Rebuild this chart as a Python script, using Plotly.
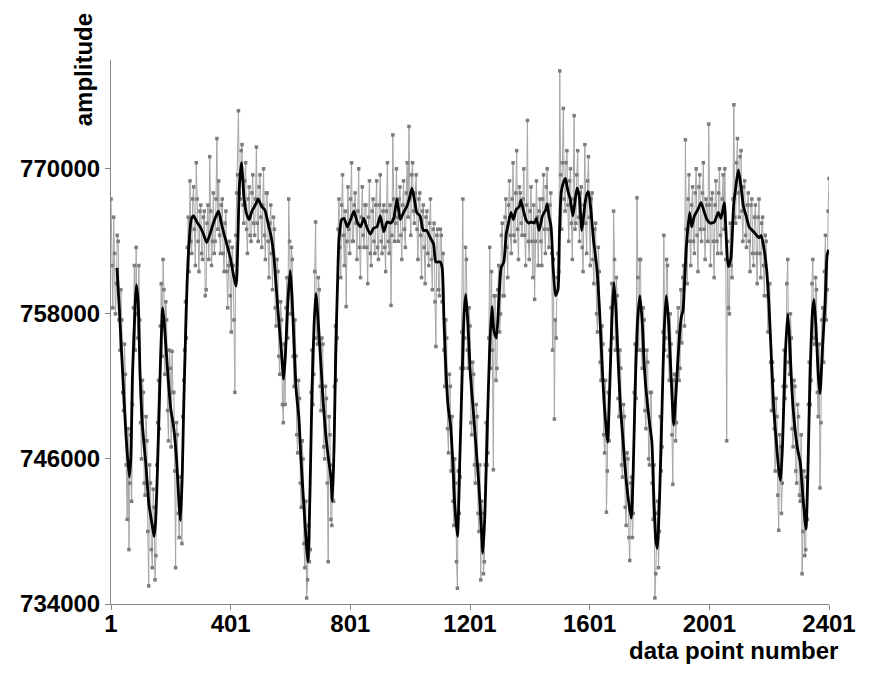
import plotly.graph_objects as go

# ---------------- data (amplitudes in thousands) ----------------
raw_a_idx = list(range(1, 2402, 6))
raw_a_k = [
    767.5, 758.5, 763.0, 760.5, 764.0, 755.0, 757.5, 750.0, 753.0, 741.0,
    738.5, 748.0, 750.5, 762.0, 763.5, 756.0, 757.5, 746.0, 751.5, 743.0,
    747.5, 735.5, 744.0, 737.0, 742.0, 738.0, 749.0, 748.5, 760.5, 762.5,
    753.0, 757.5, 747.5, 753.5, 754.9, 751.5, 737.0, 748.0, 739.5, 744.5,
    749.5, 755.0, 756.0, 766.0, 769.0, 763.0, 768.5, 762.0, 767.5, 761.5,
    767.0, 762.5, 766.5, 760.0, 767.0, 771.0, 762.0, 768.0, 764.0, 772.5,
    769.0, 763.0, 767.5, 761.5, 766.5, 758.5, 764.0, 756.5, 762.0, 751.5,
    768.0, 774.8, 767.5, 772.0, 765.5, 770.5, 763.0, 768.5, 764.0, 769.5,
    764.5, 771.8, 764.0, 769.5, 763.5, 770.0, 762.5, 768.0, 761.0, 767.0,
    760.0, 765.0, 757.0, 761.5, 753.0, 757.5, 749.0, 750.5, 761.0, 767.5,
    758.0, 762.5, 752.0, 754.5, 746.5, 751.0, 742.0, 746.0, 737.0, 734.5,
    740.5, 738.5, 755.0, 753.0, 765.6, 755.5, 760.0, 750.0, 755.5, 746.0,
    751.0, 737.5, 748.0, 740.5, 742.5, 757.0, 756.0, 767.5, 761.0, 769.5,
    762.0, 758.6, 768.5, 763.0, 770.5, 764.0, 768.0, 762.5, 770.0, 761.0,
    768.5, 763.5, 767.0, 760.5, 769.0, 762.0, 767.5, 763.0, 769.0, 762.5,
    769.5, 763.0, 767.0, 761.5, 770.5, 763.0, 758.7, 772.8, 764.0, 770.0,
    764.0, 768.5, 762.5, 769.0, 763.5, 770.5, 773.5, 764.5, 770.5, 765.5,
    769.5, 762.5, 768.0, 761.0, 767.0, 760.5, 766.5, 762.0, 767.5, 760.0,
    765.5, 755.3, 765.0, 759.5, 764.5, 763.0, 752.0, 756.0, 746.5, 752.0,
    749.5, 740.5, 744.0, 735.3, 741.5, 753.5, 767.5, 756.0, 762.5, 753.5,
    757.0, 748.0, 753.0, 744.0, 749.5, 740.0, 736.0, 741.5, 737.5, 749.0,
    746.5, 763.5, 761.5, 745.1, 759.5, 753.5, 762.0, 758.0, 765.5, 759.5,
    767.5, 761.0, 769.0, 763.0, 770.5, 764.0, 771.5, 762.5, 768.0, 764.5,
    770.0, 762.0, 774.0, 762.5, 768.5, 761.0, 759.2, 769.0, 762.0, 767.5,
    762.0, 769.5, 763.0, 770.0, 763.5, 768.0, 755.0, 749.3, 756.0, 763.0,
    778.1, 765.0, 775.0, 766.5, 771.5, 764.0, 770.0, 762.5, 774.4, 765.5,
    771.5, 764.0, 768.5, 761.5, 772.0, 763.0, 771.0, 762.0, 768.0, 760.5,
    765.5, 756.5, 761.5, 752.5, 755.5, 746.5, 741.6, 751.5, 755.0, 760.5,
    766.5, 755.0, 759.5, 749.5, 753.5, 744.5, 749.5, 740.5, 746.0, 737.6,
    744.5, 741.5, 755.5, 767.6, 755.0, 762.5, 753.5, 757.5, 748.5, 754.0,
    745.5, 751.5, 741.0, 734.5, 741.5, 737.0, 749.5, 747.0, 764.5, 756.0,
    762.0, 752.5, 755.5, 743.9, 753.0, 749.0, 758.5, 753.5, 755.6, 762.0,
    772.4, 760.5, 769.5, 762.0, 768.5, 763.0, 770.0, 761.5, 769.5, 764.0,
    770.5, 762.5, 767.0, 773.7, 762.0, 768.0, 761.0, 769.0, 763.0, 770.0,
    763.0, 769.5, 770.0, 747.5, 758.5, 765.5, 761.0, 775.3, 765.5, 772.5,
    766.0, 771.5, 764.0, 769.0, 763.5, 768.0, 761.5, 767.5, 762.0, 767.0,
    760.5, 767.5, 761.0, 766.0, 759.5, 764.0, 756.5, 760.5, 750.0, 752.5,
    745.0, 749.5, 740.1, 747.0, 744.0, 755.0, 752.0, 762.5, 753.0, 756.0,
    747.0, 752.0, 744.0, 749.5, 742.5, 736.5, 745.0, 738.5, 741.0, 754.0,
    752.5, 762.5, 755.5, 760.0, 749.5, 743.6, 757.5, 754.0, 764.5, 760.0,
    769.2,
]

raw_b_idx = list(range(4, 2402, 6))
raw_b_k = [
    762.0, 766.0, 758.0, 764.5, 757.5, 760.0, 751.5, 755.5, 745.5, 748.5,
    744.0, 742.5, 758.5, 755.0, 758.0, 762.0, 749.0, 752.5, 744.0, 749.5,
    740.0, 745.5, 738.5, 743.5, 736.0, 745.5, 752.5, 757.0, 754.5, 760.0,
    759.0, 750.0, 755.0, 747.0, 751.5, 745.0, 749.0, 741.5, 744.5, 739.0,
    752.5, 759.0, 763.5, 761.5, 764.0, 767.5, 765.0, 770.5, 764.0, 766.5,
    763.0, 766.0, 759.5, 765.5, 762.5, 766.5, 764.0, 763.0, 767.5, 765.0,
    764.5, 767.0, 763.0, 765.5, 761.5, 762.0, 759.5, 763.5, 757.5, 764.5,
    769.5, 768.0, 771.5, 767.0, 769.0, 765.0, 767.5, 764.5, 768.0, 765.5,
    767.5, 765.5, 768.5, 766.0, 767.0, 764.5, 768.0, 764.0, 765.5, 763.0,
    766.0, 758.5, 762.5, 754.5, 759.0, 750.5, 755.5, 758.5, 756.0, 764.0,
    763.5, 754.5, 757.5, 748.0, 752.5, 744.0, 747.5, 739.0, 742.5, 736.0,
    737.5, 751.5, 750.5, 761.5, 756.0, 761.0, 752.0, 756.0, 747.0, 752.0,
    744.0, 749.5, 741.0, 745.5, 752.0, 752.5, 765.0, 763.5, 767.0, 764.5,
    766.5, 764.0, 765.0, 767.5, 764.0, 767.0, 765.5, 766.5, 763.5, 766.0,
    764.5, 767.0, 763.5, 766.0, 763.0, 766.5, 764.0, 767.0, 763.5, 767.0,
    764.0, 766.5, 763.5, 766.5, 764.0, 767.0, 764.5, 767.5, 765.5, 766.0,
    767.5, 764.5, 767.0, 765.0, 768.0, 766.0, 767.5, 769.5, 766.5, 768.0,
    765.0, 767.5, 764.5, 766.5, 763.5, 766.0, 763.0, 765.5, 762.5, 765.0,
    759.0, 764.5, 760.0, 765.0, 759.0, 755.0, 757.5, 748.5, 753.0, 745.0,
    742.5, 746.0, 737.5, 745.0, 744.5, 756.5, 753.5, 763.5, 755.0, 758.5,
    749.0, 754.0, 745.5, 750.5, 741.5, 745.5, 742.5, 736.5, 745.5, 745.5,
    756.0, 753.5, 755.0, 759.5, 752.5, 760.0, 756.5, 764.5, 759.5, 766.0,
    763.5, 767.0, 764.5, 767.5, 764.5, 768.0, 765.0, 768.5, 765.5, 767.5,
    764.5, 767.0, 764.0, 766.5, 764.0, 767.0, 764.0, 766.0, 766.5, 764.0,
    767.5, 765.0, 768.5, 765.0, 767.0, 763.0, 762.5, 757.5, 761.0, 761.5,
    769.5, 770.5, 767.5, 770.5, 767.0, 769.0, 765.5, 767.5, 765.0, 769.5,
    766.0, 768.0, 763.5, 767.0, 765.5, 769.0, 766.0, 767.5, 762.5, 765.0,
    758.0, 763.5, 754.0, 757.0, 748.0, 752.5, 745.0, 747.5, 758.5, 756.0,
    762.5, 761.0, 751.0, 755.0, 745.5, 750.5, 742.0, 746.5, 739.5, 744.0,
    739.5, 751.5, 751.0, 761.0, 762.5, 755.0, 758.5, 750.0, 755.0, 746.0,
    751.5, 744.0, 745.5, 736.5, 742.5, 740.0, 745.0, 756.5, 755.0, 762.5,
    754.5, 758.0, 748.0, 752.5, 747.5, 756.5, 752.5, 760.0, 761.0, 757.0,
    765.0, 767.5, 764.0, 767.0, 764.0, 768.0, 764.5, 768.5, 765.0, 768.0,
    765.0, 767.5, 764.0, 767.0, 767.5, 764.0, 767.0, 764.0, 768.0, 764.5,
    767.5, 765.0, 762.5, 764.0, 758.0, 762.0, 767.5, 766.0, 770.5, 768.0,
    771.0, 766.5, 768.5, 764.5, 767.0, 764.0, 767.0, 763.0, 766.0, 763.0,
    766.0, 763.0, 765.5, 762.0, 764.5, 759.5, 760.5, 754.0, 754.0, 748.5,
    751.0, 743.0, 748.0, 741.5, 752.0, 751.0, 760.5, 754.0, 758.0, 748.5,
    752.5, 745.0, 750.5, 743.0, 748.0, 740.0, 738.0, 744.5, 750.5, 750.5,
    760.5, 756.0, 761.0, 751.5, 755.5, 749.0, 758.5, 761.5, 757.5, 766.5,
]

smooth_idx = [
    21, 29, 40, 51, 62, 67, 73, 82, 86, 92, 98, 106, 117, 128, 139, 145, 150,
    159, 167, 174, 181, 189, 200, 211, 220, 228, 233, 239, 244, 250, 255, 261,
    270, 277, 288, 299, 310, 321, 332, 343, 354, 360, 365, 370, 380, 390, 400,
    419, 425, 430, 437, 446, 454, 463, 472, 481, 487, 493, 504, 515, 526, 537,
    545, 553, 562, 570, 578, 584, 592, 600, 606, 612, 620, 629, 636, 644, 653,
    659, 666, 673, 680, 686, 694, 703, 710, 719, 728, 736, 741, 747, 752, 758,
    763, 772, 780, 791, 802, 813, 824, 835, 846, 857, 868, 879, 890, 901, 913,
    924, 935, 946, 957, 968, 979, 990, 1001, 1007, 1015, 1023, 1034, 1045,
    1056, 1068, 1079, 1087, 1101, 1108, 1114, 1121, 1128, 1136, 1143, 1150,
    1159, 1167, 1175, 1181, 1187, 1194, 1202, 1211, 1220, 1231, 1239, 1244,
    1251, 1259, 1266, 1274, 1281, 1289, 1297, 1305, 1314, 1322, 1327, 1338,
    1346, 1355, 1366, 1371, 1379, 1388, 1397, 1405, 1416, 1423, 1432, 1443,
    1454, 1459, 1465, 1472, 1479, 1487, 1495, 1500, 1506, 1514, 1520, 1528,
    1536, 1545, 1553, 1559, 1566, 1575, 1583, 1590, 1597, 1605, 1614, 1625,
    1634, 1641, 1649, 1658, 1661, 1669, 1675, 1682, 1689, 1697, 1704, 1713,
    1722, 1731, 1740, 1746, 1753, 1761, 1769, 1777, 1785, 1793, 1802, 1809,
    1815, 1822, 1827, 1835, 1843, 1850, 1857, 1864, 1870, 1877, 1882, 1890,
    1899, 1907, 1913, 1918, 1924, 1935, 1942, 1951, 1962, 1973, 1982, 1993,
    2004, 2018, 2031, 2040, 2051, 2057, 2064, 2073, 2082, 2089, 2098, 2106,
    2115, 2124, 2134, 2145, 2156, 2167, 2174, 2183, 2192, 2200, 2208, 2216,
    2225, 2233, 2239, 2246, 2255, 2263, 2269, 2277, 2286, 2296, 2305, 2314,
    2324, 2330, 2338, 2346, 2351, 2358, 2366, 2371, 2379, 2388, 2395, 2400,
]
smooth_k = [
    761.8, 758.3, 753.1, 748.0, 744.5, 746.0, 753.1, 758.9, 760.4, 758.9,
    753.1, 748.8, 745.7, 742.2, 740.5, 739.6, 740.8, 747.4, 754.6, 758.5,
    756.6, 753.7, 750.3, 748.5, 746.0, 742.5, 740.9, 744.5, 750.3, 756.0,
    760.3, 763.5, 765.9, 766.1, 765.6, 765.2, 764.6, 763.9, 764.6, 765.5,
    766.2, 766.5, 766.1, 765.5, 764.5, 763.6, 762.6, 760.3, 764.0, 768.5,
    770.5, 767.5, 766.3, 765.8, 766.5, 766.9, 767.2, 767.5, 766.9, 766.6,
    765.5, 764.3, 762.9, 760.3, 757.4, 755.1, 752.6, 754.6, 758.9, 761.6,
    759.5, 756.0, 751.7, 749.4, 746.0, 742.8, 739.3, 737.5, 743.1, 751.7,
    757.2, 759.7, 757.2, 753.7, 750.8, 748.0, 746.0, 744.5, 742.5, 747.4,
    754.6, 760.3, 764.1, 765.8, 765.9, 765.2, 765.8, 766.5, 765.6, 765.2,
    765.9, 765.1, 764.6, 765.1, 765.2, 766.1, 764.8, 765.6, 765.5, 765.9,
    767.5, 765.8, 766.4, 766.9, 767.8, 768.4, 767.5, 766.4, 766.1, 764.9,
    764.9, 764.3, 763.8, 762.3, 762.3, 761.8, 757.4, 753.1, 750.3, 748.8,
    746.0, 742.2, 739.6, 746.0, 753.1, 758.0, 759.6, 757.2, 753.1, 750.3,
    747.4, 743.7, 740.2, 738.2, 741.6, 748.8, 754.6, 758.6, 756.6, 756.0,
    758.9, 761.8, 762.3, 764.6, 765.2, 766.4, 765.8, 766.6, 766.9, 767.4,
    766.6, 765.8, 765.5, 765.6, 765.5, 765.9, 764.9, 766.1, 766.6, 767.1,
    766.1, 765.2, 761.8, 759.5, 760.0, 764.6, 768.1, 768.9, 769.2, 768.2,
    767.5, 766.1, 767.5, 768.4, 767.8, 764.9, 766.6, 767.8, 768.1, 766.6,
    764.1, 761.8, 758.3, 754.6, 750.8, 748.0, 747.4, 752.6, 757.4, 760.6,
    758.3, 753.7, 750.3, 747.4, 744.5, 742.5, 741.1, 744.5, 751.7, 757.4,
    759.5, 757.2, 753.1, 750.8, 748.8, 747.4, 743.1, 739.3, 738.6, 743.1,
    750.3, 756.6, 759.5, 757.7, 754.6, 750.8, 748.8, 751.7, 755.4, 757.7,
    758.3, 760.5, 763.5, 766.4, 765.2, 766.1, 766.6, 767.2, 766.6, 765.8,
    765.5, 765.6, 766.4, 765.9, 767.2, 764.6, 761.9, 762.6, 766.9, 768.4,
    769.9, 768.7, 766.9, 766.1, 765.2, 764.9, 764.6, 764.3, 764.5, 763.5,
    761.8, 758.9, 754.6, 750.3, 747.4, 745.1, 744.2, 747.4, 754.6, 758.0,
    756.0, 751.7, 748.8, 746.8, 745.7, 742.8, 740.2, 744.5, 753.1, 758.3,
    759.2, 756.6, 752.6, 751.4, 755.1, 758.9, 762.9, 763.3,
]

x_ticks = [1, 401, 801, 1201, 1601, 2001, 2401]
y_ticks = [734000, 746000, 758000, 770000]

# merge the two interleaved raw sample lists into one series ordered by index
raw_pairs = sorted(zip(raw_a_idx + raw_b_idx, raw_a_k + raw_b_k))
raw_idx = [p[0] for p in raw_pairs]
raw_vals = [p[1] * 1000 for p in raw_pairs]
smooth_vals = [v * 1000 for v in smooth_k]

FONT = "Liberation Sans, Arial, sans-serif"

fig = go.Figure()
fig.add_trace(go.Scatter(
    x=raw_idx, y=raw_vals, mode="lines+markers",
    line=dict(color="#a6a6a6", width=1),
    marker=dict(symbol="square", size=3.5, color="#7c7c7c"),
    showlegend=False, hoverinfo="skip",
))
fig.add_trace(go.Scatter(
    x=smooth_idx, y=smooth_vals, mode="lines",
    line=dict(color="black", width=2.8, shape="spline", smoothing=0.6),
    showlegend=False,
))

axis_common = dict(
    showgrid=False, zeroline=False, showline=True,
    linecolor="#888888", linewidth=1,
    ticks="outside", ticklen=5, tickcolor="#888888", tickwidth=1,
    tickfont=dict(family=FONT, size=24, color="black", weight="bold"),
)
fig.update_xaxes(range=[1, 2401], tickvals=x_ticks, ticktext=[str(t) for t in x_ticks],
                 ticklabelstandoff=-7, **axis_common)
fig.update_yaxes(range=[734000, 779000], tickvals=y_ticks,
                 ticktext=[str(t) for t in y_ticks], **axis_common)

fig.add_annotation(
    text="amplitude", xref="paper", yref="paper",
    x=-0.039, y=0.983, xanchor="center", yanchor="middle",
    textangle=-90, showarrow=False,
    font=dict(family=FONT, size=24, color="black", weight="bold"),
)
fig.add_annotation(
    text="data point number", xref="paper", yref="paper",
    x=1.015, y=-0.086, xanchor="right", yanchor="middle",
    showarrow=False,
    font=dict(family=FONT, size=24, color="black", weight="bold"),
)

fig.update_layout(
    width=861, height=666,
    margin=dict(l=97, r=40, t=52, b=70),
    plot_bgcolor="white", paper_bgcolor="white",
)

fig.write_html("out.html")
